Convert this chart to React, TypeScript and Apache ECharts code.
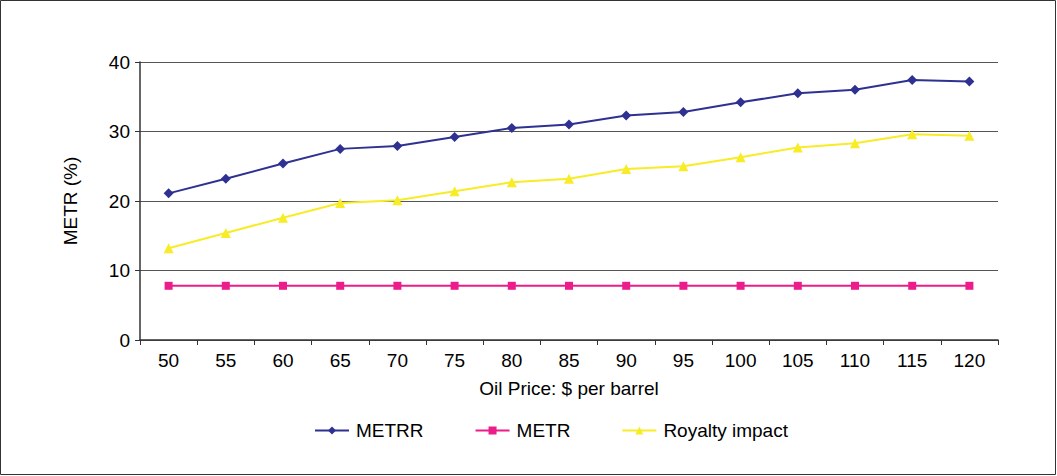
import React, { useEffect, useRef } from "react";
import * as echarts from "echarts";

const categories = ["50", "55", "60", "65", "70", "75", "80", "85", "90", "95", "100", "105", "110", "115", "120"];
const metrr = [21.1, 23.2, 25.4, 27.5, 27.9, 29.2, 30.5, 31.0, 32.3, 32.8, 34.2, 35.5, 36.0, 37.4, 37.2];
const metr = [7.8, 7.8, 7.8, 7.8, 7.8, 7.8, 7.8, 7.8, 7.8, 7.8, 7.8, 7.8, 7.8, 7.8, 7.8];
const royalty = [13.2, 15.4, 17.6, 19.7, 20.1, 21.4, 22.7, 23.2, 24.6, 25.0, 26.3, 27.7, 28.3, 29.6, 29.4];

const FONT = "'Liberation Sans', Arial, sans-serif";

export default function App() {
  const ref = useRef<HTMLDivElement>(null);
  useEffect(() => {
    if (!ref.current) return;
    const chart = echarts.init(ref.current, undefined, { renderer: "svg" });
    chart.setOption({
      animation: false,
      backgroundColor: "#ffffff",
      textStyle: { fontFamily: FONT },
      graphic: [
        {
          type: "rect",
          shape: { x: 0.5, y: 0.5, width: 1055, height: 474 },
          style: { fill: "none", stroke: "#333", lineWidth: 1 },
          silent: true,
        },
      ],
      grid: { left: 140, right: 59, top: 62, bottom: 136, containLabel: false },
      legend: {
        left: 309,
        top: 416,
        itemWidth: 34,
        itemHeight: 10,
        itemGap: 51,
        textStyle: { fontFamily: FONT, fontSize: 19, color: "#000", padding: [0, 0, 0, 2] },
        data: ["METRR", "METR", "Royalty impact"],
      },
      xAxis: {
        type: "category",
        data: categories,
        boundaryGap: true,
        name: "Oil Price: $ per barrel",
        nameLocation: "middle",
        nameGap: 39,
        nameTextStyle: { fontFamily: FONT, fontSize: 19, color: "#000" },
        axisLine: { lineStyle: { color: "#333", width: 1.5 } },
        axisTick: { show: true, length: 5, lineStyle: { color: "#333" } },
        axisLabel: { fontFamily: FONT, fontSize: 19, color: "#000", margin: 11 },
        splitLine: { show: false },
      },
      yAxis: {
        type: "value",
        min: 0,
        max: 40,
        interval: 10,
        name: "METR (%)",
        nameLocation: "middle",
        nameRotate: 90,
        nameGap: 60,
        nameTextStyle: { fontFamily: FONT, fontSize: 19, color: "#000" },
        axisLine: { show: true, lineStyle: { color: "#333", width: 1.5 } },
        axisTick: { show: true, length: 5, lineStyle: { color: "#333" } },
        axisLabel: { fontFamily: FONT, fontSize: 19, color: "#000", margin: 10 },
        splitLine: { show: true, lineStyle: { color: "#555", width: 1 } },
      },
      series: [
        {
          name: "METRR",
          type: "line",
          data: metrr,
          symbol: "diamond",
          symbolSize: 10,
          itemStyle: { color: "#2E3192" },
          lineStyle: { color: "#2E3192", width: 2 },
        },
        {
          name: "METR",
          type: "line",
          data: metr,
          symbol: "rect",
          symbolSize: 8,
          itemStyle: { color: "#EC1C8C" },
          lineStyle: { color: "#EC1C8C", width: 2 },
        },
        {
          name: "Royalty impact",
          type: "line",
          data: royalty,
          symbol: "triangle",
          symbolSize: 10,
          itemStyle: { color: "#F7EC26" },
          lineStyle: { color: "#F7EC26", width: 2 },
        },
      ],
    });
    return () => chart.dispose();
  }, []);
  return (
    <div
      ref={ref}
      style={{ position: "fixed", left: 0, top: 0, width: 1057, height: 476 }}
    />
  );
}
